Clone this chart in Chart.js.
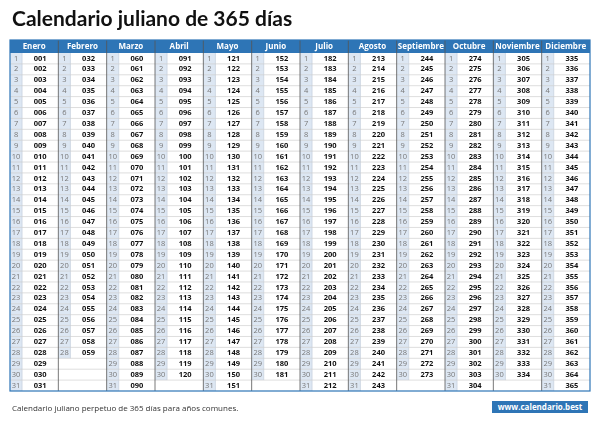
<!DOCTYPE html>
<html>
<head>
<meta charset="utf-8">
<script src="https://cdn.jsdelivr.net/npm/chart.js@4/dist/chart.umd.min.js"></script>
<style>
body { margin: 0; background: #fff; }
#wrap { position: relative; width: 600px; height: 424px; }
#title { position: absolute; left: 12px; top: 5px; font: bold 21px Lato, sans-serif; color: #111; }
#foot { position: absolute; left: 12px; top: 402px; font: 8px "Open Sans", sans-serif; color: #333; }
#web { position: absolute; left: 492px; top: 401px; width: 96px; height: 12px; background: #2e75b6; color: #fff;
       font: bold 8px "Open Sans", sans-serif; text-align: center; line-height: 12px; }
canvas { position: absolute; left: 0; top: 0; }
</style>
</head>
<body>
<div id="wrap">
<canvas id="cal" width="600" height="424"></canvas>
<div id="title">Calendario juliano de 365 días</div>
<div id="foot">Calendario juliano perpetuo de 365 días para años comunes.</div>
<div id="web">www.calendario.best</div>
</div>
<script>
var months = ["Enero", "Febrero", "Marzo", "Abril", "Mayo", "Junio", "Julio", "Agosto", "Septiembre", "Octubre", "Noviembre", "Diciembre"];
var monthDays = [31, 28, 31, 30, 31, 30, 31, 31, 30, 31, 30, 31];
var monthStart = [1, 32, 60, 91, 121, 152, 182, 213, 244, 274, 305, 335];

var cells = [];
for (let m = 0; m < 12; m++) {
    for (let d = 1; d <= monthDays[m]; d++) {
        cells.push({ x: m + 0.5, y: d - 0.5, day: d, julian: monthStart[m] + d - 1 });
    }
}

// draws the table cells through the scales
var tablePlugin = {
    id: "table",
    afterDatasetsDraw(chart) {
        const ctx = chart.ctx;
        const xs = chart.scales.x, ys = chart.scales.y;
        const area = chart.chartArea;
        ctx.save();
        // header
        ctx.fillStyle = "#2e75b6";
        ctx.fillRect(area.left, area.top - 13, area.right - area.left, 13);
        ctx.font = "bold 8px 'Open Sans'";
        ctx.textAlign = "center";
        ctx.textBaseline = "middle";
        months.forEach((name, m) => {
            ctx.fillStyle = "#fff";
            ctx.fillText(name, (xs.getPixelForValue(m) + xs.getPixelForValue(m + 1)) / 2, area.top - 6.5);
        });
        // cells
        cells.forEach(c => {
            const m = c.x - 0.5;
            const x0 = xs.getPixelForValue(m), x1 = xs.getPixelForValue(m + 1);
            const y0 = ys.getPixelForValue(c.day - 1), y1 = ys.getPixelForValue(c.day);
            const xn = x0 + (x1 - x0) * 0.25;
            ctx.fillStyle = "#dde7f3";
            ctx.fillRect(x0, y0, xn - x0, y1 - y0);
            ctx.font = "7.5px 'Open Sans'";
            ctx.fillStyle = "#777";
            ctx.fillText(String(c.day), (x0 + xn) / 2, (y0 + y1) / 2);
            ctx.font = "bold 7.5px 'Open Sans'";
            ctx.fillStyle = "#111";
            ctx.fillText(String(c.julian).padStart(3, "0"), (xn + x1) / 2, (y0 + y1) / 2);
            ctx.strokeStyle = "#bfc9d6";
            ctx.lineWidth = 0.6;
            ctx.beginPath();
            ctx.moveTo(xn, y0); ctx.lineTo(xn, y1);
            ctx.stroke();
        });
        // horizontal lines
        ctx.strokeStyle = "#c8c8c8";
        ctx.lineWidth = 0.6;
        for (let d = 1; d < 31; d++) {
            const y = ys.getPixelForValue(d);
            ctx.beginPath();
            ctx.moveTo(area.left, y); ctx.lineTo(area.right, y);
            ctx.stroke();
        }
        // month separators
        ctx.strokeStyle = "#555";
        ctx.lineWidth = 0.8;
        for (let m = 1; m < 12; m++) {
            const x = xs.getPixelForValue(m);
            ctx.beginPath();
            ctx.moveTo(x, area.top - 13); ctx.lineTo(x, area.bottom);
            ctx.stroke();
        }
        ctx.strokeStyle = "#2e75b6";
        ctx.lineWidth = 1.2;
        ctx.strokeRect(area.left, area.top - 13, area.right - area.left, area.bottom - area.top + 13);
        ctx.restore();
    }
};

new Chart(document.getElementById("cal"), {
    type: "scatter",
    data: { datasets: [{ data: cells, pointRadius: 0 }] },
    options: {
        responsive: false,
        animation: false,
        layout: { padding: { left: 10, right: 10, top: 53, bottom: 33 } },
        plugins: { legend: { display: false }, tooltip: { enabled: false } },
        scales: {
            x: { type: "linear", min: 0, max: 12, display: false },
            y: { type: "linear", min: 0, max: 31, reverse: true, display: false }
        }
    },
    plugins: [tablePlugin]
});
</script>
</body>
</html>
